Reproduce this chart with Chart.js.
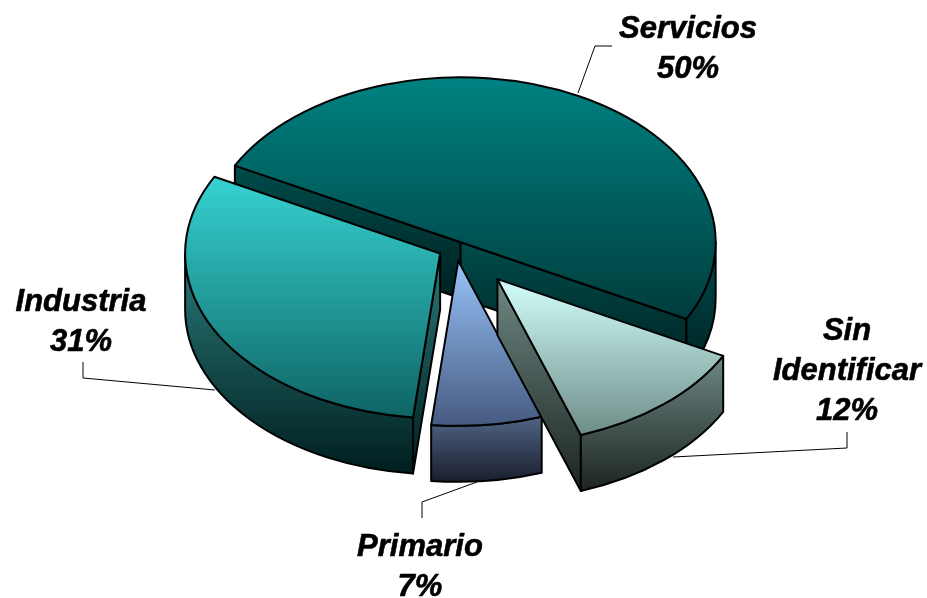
<!DOCTYPE html>
<html>
  <head>
    <title>Sectores</title>
    <style>
      body { margin: 0; background: #fff; }
      canvas { display: block; }
    </style>
  </head>
  <body>
    <canvas id="pieChart" width="927" height="598"></canvas>

    <script src="https://cdnjs.cloudflare.com/ajax/libs/Chart.js/4.4.1/chart.umd.min.js"></script>
    <script>

      // The data
      const labels = ["Servicios", "Sin Identificar", "Primario", "Industria"];
      const values = [50, 12, 7, 31];

      // The look of the pie
      const faceColors = [["#008282", "#003c3c"], ["#d2fffb", "#6e8c88"], ["#98c4fa", "#465a80"], ["#36d2d2", "#0f6464"]];
      const wallColors = [["#004c4c", "#002020"], ["#6e8883", "#1c2422"], ["#506484", "#191e2d"], ["#2a7a7a", "#001e1e"]];
      const explode = [10, 63.5, 20, 18];
      const drawOrder = [0, 3, 2, 1];
      const pieX = 456, pieY = 248, pieRadius = 255, squash = 0.647, depth = 56;

      // Text blocks (center x, first baseline) and leader lines, in the order of the labels
      const labelLines = [["Servicios"], ["Sin", "Identificar"], ["Primario"], ["Industria"]];
      const labelSpots = [[688, 38], [847, 340], [420, 556], [81, 311]];
      const leaders = [
        [[578, 93], [595, 46], [612, 46]],
        [[847, 432], [847, 448], [673, 457]],
        [[422, 518], [422, 502], [477, 482]],
        [[83, 362], [83, 378], [215, 390]]
      ];

      // Move the context so the pie of the library lands squashed on the page
      function inSlice(ctx, arc, index, fn) {
        const mid = (arc.startAngle + arc.endAngle) / 2;
        ctx.save();
        ctx.translate(pieX, pieY);
        ctx.scale(1, squash);
        ctx.translate(Math.cos(mid) * explode[index] - arc.x, Math.sin(mid) * explode[index] - arc.y);
        fn();
        ctx.restore();
      }

      // Lowest and highest sine reached between two angles, the tip of the slice included if asked
      function sineRange(a0, a1, withTip) {
        const sines = [Math.sin(a0), Math.sin(a1)];
        if (withTip) sines.push(0);
        for (let k = -2; k <= 2; k++) {
          const up = -Math.PI / 2 + k * 2 * Math.PI;
          const down = Math.PI / 2 + k * 2 * Math.PI;
          if (a0 <= up && up <= a1) sines.push(-1);
          if (a0 <= down && down <= a1) sines.push(1);
        }
        return [Math.min(...sines), Math.max(...sines)];
      }

      function gradient(ctx, y0, y1, colors) {
        const g = ctx.createLinearGradient(0, y0, 0, y1);
        g.addColorStop(0, colors[0]);
        g.addColorStop(1, colors[1]);
        return g;
      }

      function outline(ctx) {
        ctx.strokeStyle = "#000";
        ctx.lineWidth = 2;
        ctx.lineJoin = "round";
        ctx.stroke();
      }

      function drawWalls(ctx, arc, index) {
        const R = arc.outerRadius;
        const drop = depth / squash;
        const mid = (arc.startAngle + arc.endAngle) / 2;
        const shift = pieY + Math.sin(mid) * explode[index] * squash;

        // Every wall gets its gradient over its own height
        const wallFill = (lo, hi) => gradient(ctx, shift + lo * R * squash, shift + hi * R * squash + depth, wallColors[index]);

        // Cut faces that turn toward the viewer
        const cuts = [];
        if (-Math.cos(arc.startAngle) > 0) cuts.push(arc.startAngle);
        if (Math.cos(arc.endAngle) > 0) cuts.push(arc.endAngle);
        for (const a of cuts) {
          inSlice(ctx, arc, index, () => {
            const ex = arc.x + Math.cos(a) * R, ey = arc.y + Math.sin(a) * R;
            ctx.beginPath();
            ctx.moveTo(arc.x, arc.y);
            ctx.lineTo(ex, ey);
            ctx.lineTo(ex, ey + drop);
            ctx.lineTo(arc.x, arc.y + drop);
            ctx.closePath();
          });
          ctx.fillStyle = wallFill(Math.min(0, Math.sin(a)), Math.max(0, Math.sin(a)));
          ctx.fill();
          outline(ctx);
        }

        // Rim, only where the circle runs along the front
        for (let k = -1; k <= 1; k++) {
          const a0 = Math.max(arc.startAngle, k * 2 * Math.PI);
          const a1 = Math.min(arc.endAngle, k * 2 * Math.PI + Math.PI);
          if (a1 <= a0) continue;
          inSlice(ctx, arc, index, () => {
            ctx.beginPath();
            ctx.arc(arc.x, arc.y, R, a0, a1);
            ctx.arc(arc.x, arc.y + drop, R, a1, a0, true);
            ctx.closePath();
          });
          const [lo, hi] = sineRange(a0, a1, false);
          ctx.fillStyle = wallFill(lo, hi);
          ctx.fill();
          outline(ctx);
        }
      }

      function drawFace(ctx, arc, index) {
        const R = arc.outerRadius;
        const [lo, hi] = sineRange(arc.startAngle, arc.endAngle, true);
        const fill = gradient(ctx, arc.y + lo * R, arc.y + hi * R, faceColors[index]);
        arc.options = Object.assign({}, arc.options, { backgroundColor: fill, borderWidth: 0 });
        inSlice(ctx, arc, index, () => arc.draw(ctx));

        // Outline is stroked outside the squash so it keeps an even width
        inSlice(ctx, arc, index, () => {
          ctx.beginPath();
          ctx.moveTo(arc.x, arc.y);
          ctx.arc(arc.x, arc.y, R, arc.startAngle, arc.endAngle);
          ctx.closePath();
        });
        outline(ctx);
      }

      const pie3d = {
        id: "pie3d",
        beforeDatasetsDraw(chart) {
          const ctx = chart.ctx;
          const arcs = chart.getDatasetMeta(0).data;

          // Leader lines
          ctx.strokeStyle = "#000";
          ctx.lineWidth = 1;
          for (const line of leaders) {
            ctx.beginPath();
            line.forEach((p, i) => i ? ctx.lineTo(p[0], p[1]) : ctx.moveTo(p[0], p[1]));
            ctx.stroke();
          }

          // Back to front
          for (const index of drawOrder) {
            drawWalls(ctx, arcs[index], index);
            drawFace(ctx, arcs[index], index);
          }

          // Labels
          ctx.fillStyle = "#000";
          ctx.strokeStyle = "#000";
          ctx.lineWidth = 0.6;
          ctx.font = "italic bold 31px 'Liberation Sans'";
          ctx.textAlign = "center";
          ctx.textBaseline = "alphabetic";
          labelLines.forEach((lines, index) => {
            const rows = lines.concat(values[index] + "%");
            rows.forEach((row, r) => {
              ctx.fillText(row, labelSpots[index][0], labelSpots[index][1] + r * 40);
              ctx.strokeText(row, labelSpots[index][0], labelSpots[index][1] + r * 40);
            });
          });

          // The library must not draw the flat pie on top
          return false;
        }
      };

      // Initialize the chart
      const chart = new Chart(document.getElementById("pieChart").getContext("2d"), {
        type: "pie",
        data: {
          labels: labels,
          datasets: [{
            data: values,
            radius: pieRadius,
            rotation: -62.3,
            backgroundColor: faceColors.map(c => c[0])
          }]
        },
        options: {
          responsive: false,
          animation: false,
          events: [],
          plugins: {
            legend: { display: false },
            tooltip: { enabled: false }
          }
        },
        plugins: [pie3d]
      });

    </script>
  </body>
</html>
